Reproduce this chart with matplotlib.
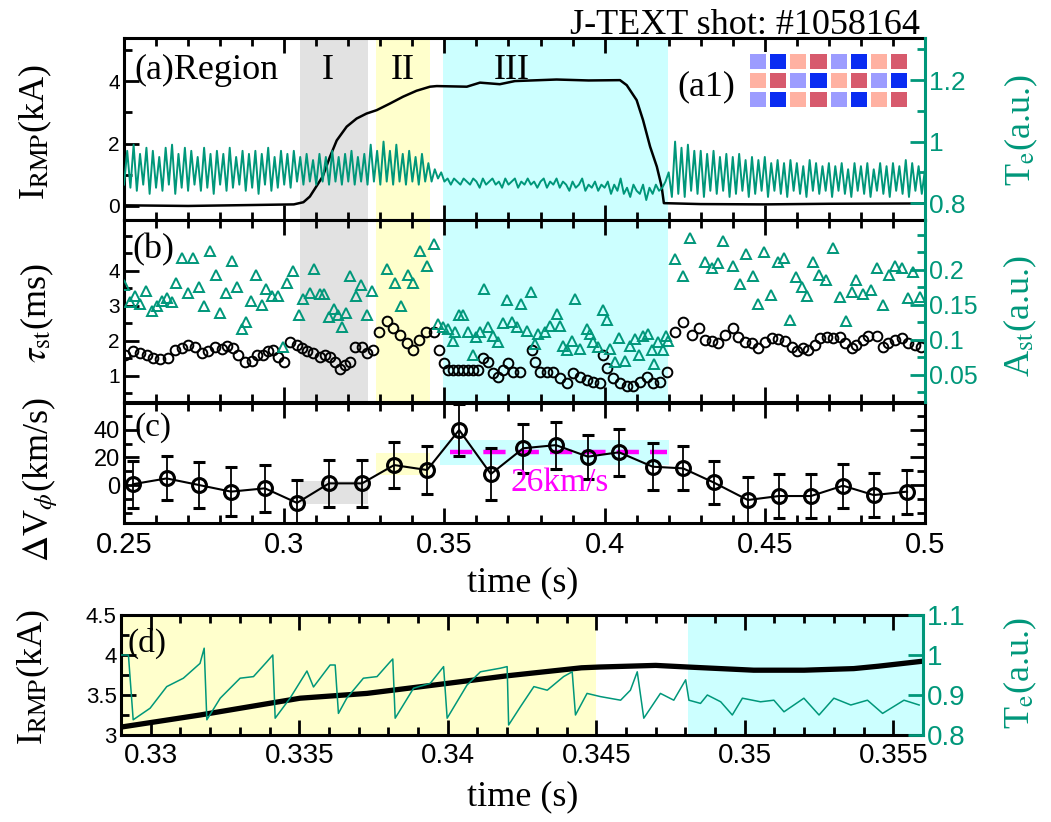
import matplotlib
matplotlib.use("Agg")
import matplotlib.pyplot as plt
import numpy as np
from matplotlib.colors import ListedColormap
from matplotlib.ticker import MultipleLocator, FuncFormatter

plt.rcParams["font.family"] = ["Liberation Serif", "DejaVu Serif"]
plt.rcParams["mathtext.fontset"] = "stix"

GREEN = "#00977a"
TICKFONT = "Liberation Sans"

# shaded regions I, II, III
reg_t0 = [0.305, 0.3286, 0.3496]
reg_t1 = [0.3262, 0.3455, 0.4198]
reg_col = ["#e2e2e2", "#ffffcc", "#ccffff"]

# (a) RMP coil current (kA)
irmp_a_t = [0.25, 0.27, 0.29, 0.303, 0.306, 0.308, 0.312, 0.3143, 0.3164, 0.3195, 0.3226, 0.3257,
            0.3289, 0.333, 0.3371, 0.3413, 0.3455, 0.3476, 0.357, 0.3611, 0.3673, 0.372, 0.385,
            0.395, 0.4048, 0.4069, 0.41, 0.412, 0.4142, 0.4163, 0.4178, 0.4185, 0.43, 0.45, 0.47, 0.5]
irmp_a_v = [0.02, 0.0, 0.03, 0.05, 0.12, 0.3, 0.94, 1.58, 2.1, 2.54, 2.8, 2.96,
            3.07, 3.28, 3.5, 3.69, 3.82, 3.84, 3.82, 3.95, 3.9, 4.0, 4.05,
            4.02, 4.03, 3.87, 3.39, 2.75, 1.9, 1.26, 0.62, 0.09, 0.06, 0.05, 0.07, 0.08]

# (a) Te trace, one sample per ms from 0.25 s to 0.5 s
te_a = [
    0.86, 0.97, 0.85, 0.99, 0.84, 0.96, 0.86, 0.98, 0.83, 0.97,
    0.85, 0.95, 0.84, 0.98, 0.86, 0.99, 0.83, 0.96, 0.85, 0.98,
    0.84, 0.97, 0.86, 0.95, 0.84, 0.98, 0.85, 0.96, 0.83, 0.97,
    0.86, 0.96, 0.84, 0.98, 0.85, 0.95, 0.86, 0.97, 0.84, 0.96,
    0.85, 0.97, 0.83, 0.96, 0.86, 0.98, 0.84, 0.95, 0.85, 0.97,
    0.86, 0.96, 0.85, 0.97, 0.87, 0.95, 0.86, 0.96, 0.87, 0.94,
    0.86, 0.96, 0.87, 0.95, 0.86, 0.97, 0.87, 0.95, 0.86, 0.96,
    0.87, 0.97, 0.86, 0.95, 0.87, 0.96, 0.86, 0.99, 0.87, 0.97,
    0.86, 1.00, 0.87, 0.97, 0.86, 0.99, 0.87, 0.96, 0.86, 0.97,
    0.87, 0.95, 0.86, 0.96, 0.87, 0.93, 0.87, 0.91, 0.88, 0.90,
    0.87, 0.88, 0.86, 0.88, 0.87, 0.86, 0.88, 0.87, 0.86, 0.88,
    0.87, 0.85, 0.88, 0.86, 0.87, 0.88, 0.86, 0.87, 0.85, 0.88,
    0.86, 0.87, 0.88, 0.85, 0.87, 0.86, 0.88, 0.86, 0.87, 0.85,
    0.87, 0.88, 0.85, 0.87, 0.86, 0.88, 0.85, 0.87, 0.86, 0.84,
    0.87, 0.85, 0.86, 0.88, 0.84, 0.86, 0.85, 0.87, 0.84, 0.86,
    0.85, 0.87, 0.83, 0.86, 0.84, 0.88, 0.83, 0.85, 0.82, 0.86,
    0.84, 0.83, 0.86, 0.81, 0.85, 0.83, 0.86, 0.84, 0.85, 0.87,
    0.90, 0.82, 1.00, 0.83, 0.98, 0.82, 0.99, 0.84, 0.97, 0.83,
    0.97, 0.82, 0.96, 0.84, 0.97, 0.83, 0.95, 0.84, 0.96, 0.82,
    0.95, 0.83, 0.96, 0.84, 0.94, 0.82, 0.95, 0.83, 0.94, 0.84,
    0.95, 0.82, 0.93, 0.84, 0.94, 0.83, 0.93, 0.82, 0.94, 0.84,
    0.93, 0.83, 0.92, 0.82, 0.94, 0.84, 0.93, 0.83, 0.92, 0.84,
    0.93, 0.82, 0.92, 0.84, 0.93, 0.83, 0.91, 0.82, 0.93, 0.84,
    0.92, 0.83, 0.93, 0.82, 0.91, 0.84, 0.93, 0.83, 0.92, 0.82,
    0.93, 0.84, 0.92, 0.83, 0.94, 0.82, 0.93, 0.84, 0.92, 0.83,
    0.91,
]

# (a1) coil pattern: 0 light blue, 1 blue, 2 light red, 3 red
coil_pattern = [[0, 1, 2, 3, 0, 1, 2, 3],
                [2, 3, 0, 1, 2, 3, 0, 1],
                [0, 1, 2, 3, 0, 1, 2, 3]]
coil_colors = ["#9c9cff", "#0a2cf2", "#ffb1a2", "#d75a6d"]

# (b) tau_st (ms), black circles
tau_t = [0.2503, 0.2529, 0.2550, 0.2571, 0.2592, 0.2612, 0.2638, 0.2659, 0.2680, 0.2701,
         0.2722, 0.2742, 0.2763, 0.2784, 0.2805, 0.2820, 0.2841, 0.2857, 0.2878, 0.2898,
         0.2914, 0.2935, 0.2950, 0.2966, 0.2982, 0.2999, 0.3018, 0.3039, 0.3054, 0.3070,
         0.3091, 0.3112, 0.3128, 0.3143, 0.3159, 0.3174, 0.3190, 0.3206, 0.3221, 0.3242,
         0.3258, 0.3278, 0.3297, 0.3320, 0.3341, 0.3362, 0.3384, 0.3403, 0.3422, 0.3443,
         0.3466, 0.3484, 0.3499, 0.3512, 0.3528, 0.3544, 0.3559, 0.3575, 0.3590, 0.3606,
         0.3622, 0.3637, 0.3653, 0.3668, 0.3684, 0.3700, 0.3715, 0.3736, 0.3772, 0.3783,
         0.3798, 0.3819, 0.3840, 0.3861, 0.3882, 0.3902, 0.3923, 0.3944, 0.3965, 0.3986,
         0.3994, 0.4008, 0.4027, 0.4048, 0.4069, 0.4090, 0.4110, 0.4131, 0.4152, 0.4173,
         0.4194, 0.4220, 0.4246, 0.4272, 0.4295, 0.4313, 0.4334, 0.4355, 0.4376, 0.4400,
         0.4417, 0.4438, 0.4459, 0.4480, 0.4500, 0.4521, 0.4542, 0.4563, 0.4584, 0.4601,
         0.4620, 0.4636, 0.4656, 0.4672, 0.4693, 0.4714, 0.4734, 0.4750, 0.4771, 0.4786,
         0.4805, 0.4823, 0.4849, 0.4868, 0.4885, 0.4906, 0.4927, 0.4948, 0.4968, 0.4989]
tau_v = [1.60, 1.70, 1.65, 1.60, 1.50, 1.49, 1.50, 1.74, 1.79, 1.89,
         1.84, 1.65, 1.70, 1.84, 1.77, 1.87, 1.79, 1.60, 1.41, 1.43,
         1.60, 1.60, 1.70, 1.74, 1.55, 1.41, 1.98, 1.89, 1.79, 1.70,
         1.65, 1.55, 1.60, 1.55, 1.41, 1.20, 1.31, 1.41, 1.84, 1.84,
         1.65, 1.74, 2.27, 2.57, 2.36, 2.17, 1.93, 1.74, 2.03, 2.25,
         2.27, 1.74, 1.36, 1.17, 1.17, 1.17, 1.17, 1.17, 1.17, 1.17,
         1.50, 1.41, 1.08, 0.98, 1.17, 1.36, 1.12, 1.12, 1.74, 1.41,
         1.12, 1.12, 1.12, 0.93, 0.79, 1.08, 0.98, 0.89, 0.84, 0.79,
         1.60, 1.22, 0.93, 0.79, 0.70, 0.70, 0.84, 0.98, 0.79, 0.84,
         1.12, 2.27, 2.55, 2.17, 2.36, 2.03, 2.00, 1.93, 2.17, 2.36,
         2.12, 1.98, 1.93, 1.81, 1.98, 2.08, 2.06, 2.00, 1.84, 1.70,
         1.79, 1.74, 1.89, 2.08, 2.12, 2.08, 2.12, 1.93, 1.79, 1.89,
         2.03, 2.15, 2.15, 1.84, 1.93, 2.03, 2.08, 1.93, 1.89, 1.84]

# (b) A_st (a.u.), green triangles
amp_t = [0.2500, 0.2519, 0.2534, 0.2550, 0.2569, 0.2587, 0.2602, 0.2618, 0.2634, 0.2649,
         0.2662, 0.2680, 0.2701, 0.2716, 0.2734, 0.2751, 0.2768, 0.2786, 0.2799, 0.2817,
         0.2836, 0.2852, 0.2867, 0.2881, 0.2895, 0.2912, 0.2930, 0.2943, 0.2961, 0.2980,
         0.2995, 0.3008, 0.3026, 0.3046, 0.3060, 0.3079, 0.3094, 0.3112, 0.3125, 0.3141,
         0.3154, 0.3169, 0.3180, 0.3193, 0.3206, 0.3224, 0.3240, 0.3258, 0.3275, 0.3320,
         0.3346, 0.3365, 0.3385, 0.3403, 0.3424, 0.3445, 0.3469, 0.3481, 0.3497, 0.3512,
         0.3526, 0.3533, 0.3547, 0.3559, 0.3575, 0.3588, 0.3599, 0.3611, 0.3624, 0.3637,
         0.3653, 0.3668, 0.3682, 0.3696, 0.3710, 0.3726, 0.3739, 0.3757, 0.3769, 0.3783,
         0.3793, 0.3814, 0.3830, 0.3850, 0.3861, 0.3871, 0.3882, 0.3897, 0.3908, 0.3923,
         0.3944, 0.3954, 0.3965, 0.3980, 0.3996, 0.4008, 0.4017, 0.4032, 0.4046, 0.4064,
         0.4079, 0.4095, 0.4108, 0.4119, 0.4136, 0.4147, 0.4155, 0.4168, 0.4181, 0.4192,
         0.4199, 0.4220, 0.4246, 0.4268, 0.4313, 0.4334, 0.4355, 0.4370, 0.4400, 0.4422,
         0.4441, 0.4462, 0.4480, 0.4498, 0.4519, 0.4542, 0.4560, 0.4578, 0.4597, 0.4615,
         0.4632, 0.4651, 0.4670, 0.4691, 0.4712, 0.4734, 0.4753, 0.4771, 0.4786, 0.4807,
         0.4830, 0.4849, 0.4870, 0.4888, 0.4906, 0.4927, 0.4948, 0.4963, 0.4984]
amp_v = [0.178, 0.154, 0.163, 0.152, 0.170, 0.142, 0.148, 0.155, 0.160, 0.154,
         0.182, 0.217, 0.167, 0.217, 0.176, 0.149, 0.227, 0.193, 0.139, 0.167,
         0.213, 0.176, 0.116, 0.125, 0.155, 0.193, 0.150, 0.173, 0.163, 0.163,
         0.090, 0.182, 0.198, 0.136, 0.159, 0.167, 0.202, 0.166, 0.166, 0.133,
         0.144, 0.135, 0.118, 0.139, 0.192, 0.163, 0.178, 0.136, 0.170, 0.201,
         0.182, 0.149, 0.193, 0.182, 0.227, 0.205, 0.237, 0.123, 0.118, 0.116,
         0.099, 0.111, 0.135, 0.135, 0.111, 0.078, 0.104, 0.112, 0.173, 0.118,
         0.106, 0.097, 0.124, 0.157, 0.125, 0.118, 0.151, 0.113, 0.168, 0.094,
         0.109, 0.111, 0.120, 0.137, 0.120, 0.092, 0.085, 0.099, 0.159, 0.087,
         0.116, 0.109, 0.097, 0.090, 0.143, 0.129, 0.087, 0.068, 0.103, 0.070,
         0.092, 0.101, 0.078, 0.106, 0.108, 0.085, 0.066, 0.097, 0.086, 0.106,
         0.098, 0.216, 0.192, 0.246, 0.211, 0.203, 0.210, 0.242, 0.205, 0.180,
         0.223, 0.192, 0.152, 0.225, 0.164, 0.212, 0.217, 0.129, 0.190, 0.175,
         0.163, 0.212, 0.193, 0.186, 0.232, 0.162, 0.127, 0.168, 0.185, 0.166,
         0.171, 0.203, 0.150, 0.193, 0.206, 0.203, 0.160, 0.197, 0.161]

# (c) toroidal rotation change (km/s)
dv_t = [0.2528, 0.2633, 0.2734, 0.2834, 0.2940, 0.3040, 0.3140, 0.3243, 0.3343, 0.3446,
        0.3546, 0.3645, 0.3746, 0.3848, 0.3948, 0.4045, 0.4150, 0.4245, 0.4340, 0.4447,
        0.4544, 0.4644, 0.4744, 0.4840, 0.4944]
dv_v = [0.6, 4.8, 0.0, -4.8, -2.4, -13.0, 1.2, 1.2, 14.5, 10.9,
        40.0, 8.0, 26.7, 29.0, 20.6, 23.8, 13.3, 12.1, 1.9, -10.9,
        -8.0, -8.0, -0.5, -7.3, -4.8]
dv_err = [17, 16, 17, 18, 17, 17, 17, 17, 17, 17.5,
          19, 19, 18, 17, 16, 17, 17, 16, 15.5, 17,
          16, 16, 16, 16, 16]
box_t0 = [0.305, 0.3286, 0.3486]
box_t1 = [0.3262, 0.3455, 0.4200]
box_lo = [-14.0, 7.3, 14.5]
box_hi = [3.0, 23.0, 32.7]
mean_t = [0.3517, 0.4195]
mean_v = 24.0

# (d) zoom: RMP current and Te
irmp_d_t = [0.32902, 0.33166, 0.33503, 0.33728, 0.34009, 0.3420, 0.3445, 0.34513, 0.3470,
            0.34806, 0.3503, 0.3520, 0.35367, 0.3545, 0.35593]
irmp_d_v = [3.10, 3.25, 3.46, 3.52, 3.65, 3.74, 3.84, 3.85, 3.87,
            3.85, 3.81, 3.81, 3.83, 3.86, 3.92]
te_d_t = [0.32902, 0.32925, 0.32941, 0.32998, 0.33054, 0.3311, 0.33166, 0.3318, 0.33189, 0.33234,
          0.33301, 0.33346, 0.33391, 0.33411, 0.33419, 0.33469, 0.33526, 0.33548, 0.33604, 0.33621,
          0.33632, 0.3366, 0.33716, 0.33762, 0.33806, 0.33815, 0.33823, 0.33885, 0.33941, 0.33986,
          0.33998, 0.34065, 0.3411, 0.34177, 0.342, 0.34205, 0.34245, 0.3429, 0.34335, 0.3439,
          0.34419, 0.3443, 0.34469, 0.34514, 0.34582, 0.34615, 0.34638, 0.3466, 0.34716, 0.34761,
          0.34801, 0.34812, 0.34851, 0.34874, 0.34919, 0.34958, 0.34992, 0.35053, 0.35098, 0.35132,
          0.35199, 0.3525, 0.353, 0.35357, 0.35413, 0.35464, 0.35536, 0.35587]
te_d_v = [1.0, 1.0, 0.838, 0.867, 0.921, 0.942, 0.979, 1.017, 0.838, 0.892,
          0.942, 0.946, 0.983, 1.0, 0.842, 0.892, 0.96, 0.92, 0.975, 0.975,
          0.854, 0.892, 0.942, 0.946, 0.983, 0.99, 0.842, 0.917, 0.929, 0.971,
          0.842, 0.925, 0.958, 0.967, 0.971, 0.825, 0.871, 0.921, 0.912, 0.946,
          0.958, 0.85, 0.904, 0.896, 0.887, 0.912, 0.958, 0.842, 0.904, 0.887,
          0.938, 0.887, 0.879, 0.9, 0.883, 0.85, 0.892, 0.883, 0.887, 0.858,
          0.892, 0.85, 0.892, 0.875, 0.887, 0.854, 0.887, 0.875]
d_yellow = [0.329, 0.345]
d_cyan = [0.3481, 0.356]

W, H = 1051, 822
gfmt = FuncFormatter(lambda v, p: f"{v:g}")


def style_host(ax, fs, right=False):
    for s in ax.spines.values():
        s.set_linewidth(2.2)
    if not right:
        ax.spines["right"].set_visible(False)
    ax.tick_params(which="both", direction="in", top=True, right=right, width=2,
                   labelsize=fs, labelfontfamily=TICKFONT, pad=3)
    ax.tick_params(which="major", length=11)
    ax.tick_params(which="minor", length=6)


def style_twin(tw, fs):
    for s in ["left", "top", "bottom"]:
        tw.spines[s].set_visible(False)
    tw.spines["right"].set_color(GREEN)
    tw.spines["right"].set_linewidth(2.2)
    tw.tick_params(axis="y", which="both", direction="in", colors=GREEN, width=2,
                   labelsize=fs, labelfontfamily=TICKFONT, pad=3)
    tw.tick_params(axis="y", which="major", length=11)
    tw.tick_params(axis="y", which="minor", length=6)
    tw.yaxis.set_major_formatter(gfmt)


fig = plt.figure(figsize=(W / 100, H / 100), dpi=100)
ax_a = fig.add_axes([124 / W, 1 - 220 / H, 801 / W, 182 / H])
ax_b = fig.add_axes([124 / W, 1 - 402 / H, 801 / W, 182 / H])
ax_c = fig.add_axes([124 / W, 1 - 523 / H, 801 / W, 120 / H])
ax_d = fig.add_axes([121 / W, 1 - 735 / H, 802 / W, 120 / H])

for ax in (ax_a, ax_b, ax_c):
    ax.set_xlim(0.25, 0.5)
    ax.xaxis.set_major_locator(MultipleLocator(0.05))
    ax.xaxis.set_minor_locator(MultipleLocator(0.01))
    ax.xaxis.set_major_formatter(gfmt)

# ---- (a)
style_host(ax_a, 15)
for t0, t1, c in zip(reg_t0, reg_t1, reg_col):
    ax_a.axvspan(t0, t1, color=c, lw=0, zorder=0)
ax_a.plot(irmp_a_t, irmp_a_v, color="black", lw=1.8, zorder=3)
ax_a.set_ylim(-0.45, 5.38)
ax_a.set_yticks([0, 2, 4])
ax_a.yaxis.set_minor_locator(MultipleLocator(1))
ax_a.tick_params(labelbottom=False)
tw_a = ax_a.twinx()
tw_a.plot(np.linspace(0.25, 0.5, len(te_a)), te_a, color=GREEN, lw=1.4)
tw_a.set_ylim(0.745, 1.337)
tw_a.set_yticks([0.8, 1.0, 1.2])
tw_a.yaxis.set_minor_locator(MultipleLocator(0.1))
style_twin(tw_a, 19)
ax_a.text(0.2531, 4.35, "(a)Region", fontsize=26, va="center")
ax_a.text(0.3137, 4.35, "I", fontsize=26, va="center", ha="center")
ax_a.text(0.3370, 4.35, "II", fontsize=26, va="center", ha="center")
ax_a.text(0.3710, 4.35, "III", fontsize=26, va="center", ha="center")
ax_a.text(0.4319, 3.81, "(a1)", fontsize=26, va="center", ha="center")

ax_in = fig.add_axes([748 / W, 1 - 109 / H, 161 / W, 57 / H])
ax_in.pcolormesh(np.array(coil_pattern[::-1]), cmap=ListedColormap(coil_colors),
                 vmin=-0.5, vmax=3.5, edgecolors="white", linewidth=1.5)
ax_in.set_axis_off()

# ---- (b)
style_host(ax_b, 15)
for t0, t1, c in zip(reg_t0, reg_t1, reg_col):
    ax_b.axvspan(t0, t1, color=c, lw=0, zorder=0)
ax_b.plot(tau_t, tau_v, "o", ms=7, mfc="none", mec="black", mew=1.4, zorder=3)
ax_b.set_ylim(0.257, 5.457)
ax_b.set_yticks([1, 2, 3, 4])
ax_b.yaxis.set_minor_locator(MultipleLocator(0.5))
ax_b.tick_params(labelbottom=False)
tw_b = ax_b.twinx()
tw_b.plot(amp_t, amp_v, "^", ms=7.5, mfc="none", mec=GREEN, mew=1.4)
tw_b.set_ylim(0.0114, 0.2714)
tw_b.set_yticks([0.05, 0.1, 0.15, 0.2])
tw_b.yaxis.set_minor_locator(MultipleLocator(0.025))
style_twin(tw_b, 18)
ax_b.text(0.2525, 4.6, "(b)", fontsize=26, va="center")

# ---- (c)
style_host(ax_c, 17, right=True)
ax_c.tick_params(axis="x", labelsize=21, pad=6)
for t0, t1, lo, hi, c in zip(box_t0, box_t1, box_lo, box_hi, reg_col):
    ax_c.fill_between([t0, t1], lo, hi, color=c, lw=0, zorder=0)
ax_c.plot(mean_t, [mean_v, mean_v], color="#ff00ff", lw=3.2, dashes=(5, 2.5), zorder=2)
ax_c.errorbar(dv_t, dv_v, yerr=dv_err, color="black", lw=1.5, elinewidth=1.3,
              capsize=4, capthick=1.3, marker="o", ms=10, mfc="none", mec="black", mew=2.2,
              zorder=3)
ax_c.set_ylim(-27.6, 59.6)
ax_c.set_yticks([0, 20, 40])
ax_c.yaxis.set_minor_locator(MultipleLocator(10))
ax_c.text(0.2534, 41.5, "(c)", fontsize=24, va="center")
ax_c.text(0.3705, 1.5, "26km/s", fontsize=24, va="center", color="#ff00ff")

# ---- (d)
style_host(ax_d, 16)
ax_d.tick_params(axis="x", labelsize=20, pad=6)
ax_d.set_xlim(0.329, 0.356)
ax_d.axvspan(d_yellow[0], d_yellow[1], color=reg_col[1], lw=0, zorder=0)
ax_d.axvspan(d_cyan[0], d_cyan[1], color=reg_col[2], lw=0, zorder=0)
ax_d.plot(irmp_d_t, irmp_d_v, color="black", lw=3.8, zorder=3)
ax_d.set_ylim(3, 4.5)
ax_d.yaxis.set_major_locator(MultipleLocator(0.5))
ax_d.yaxis.set_minor_locator(MultipleLocator(0.25))
ax_d.yaxis.set_major_formatter(gfmt)
ax_d.xaxis.set_major_locator(MultipleLocator(0.005))
ax_d.xaxis.set_minor_locator(MultipleLocator(0.001))
ax_d.xaxis.set_major_formatter(gfmt)
tw_d = ax_d.twinx()
tw_d.plot(te_d_t, te_d_v, color=GREEN, lw=1.1)
tw_d.set_ylim(0.8, 1.1)
tw_d.yaxis.set_major_locator(MultipleLocator(0.1))
style_twin(tw_d, 20)
ax_d.text(0.32923, 4.15, "(d)", fontsize=24, va="center")

# ---- labels
fig.text(920 / W, 1 - 34 / H, "J-TEXT shot: #1058164", ha="right", va="baseline", fontsize=26)
ylab = dict(rotation=90, ha="center", va="center", fontsize=26)
fig.text(35 / W, 1 - 132 / H, r"I$_\mathrm{RMP}$(kA)", **ylab)
fig.text(1021 / W, 1 - 130 / H, r"T$_\mathrm{e}$(a.u.)", color=GREEN, **ylab)
fig.text(37 / W, 1 - 313 / H, r"$\tau_\mathrm{st}$(ms)", **ylab)
fig.text(1020 / W, 1 - 316 / H, r"A$_\mathrm{st}$(a.u.)", color=GREEN, **ylab)
fig.text(40 / W, 1 - 480 / H, r"$\Delta$V$_\phi$(km/s)", **ylab)
fig.text(33 / W, 1 - 677 / H, r"I$_\mathrm{RMP}$(kA)", **ylab)
fig.text(1020 / W, 1 - 673 / H, r"T$_\mathrm{e}$(a.u.)", color=GREEN, **ylab)
fig.text(523 / W, 1 - 583 / H, "time (s)", ha="center", va="center", fontsize=26)
fig.text(523 / W, 1 - 797 / H, "time (s)", ha="center", va="center", fontsize=26)

fig.savefig("out.png", dpi=100)
